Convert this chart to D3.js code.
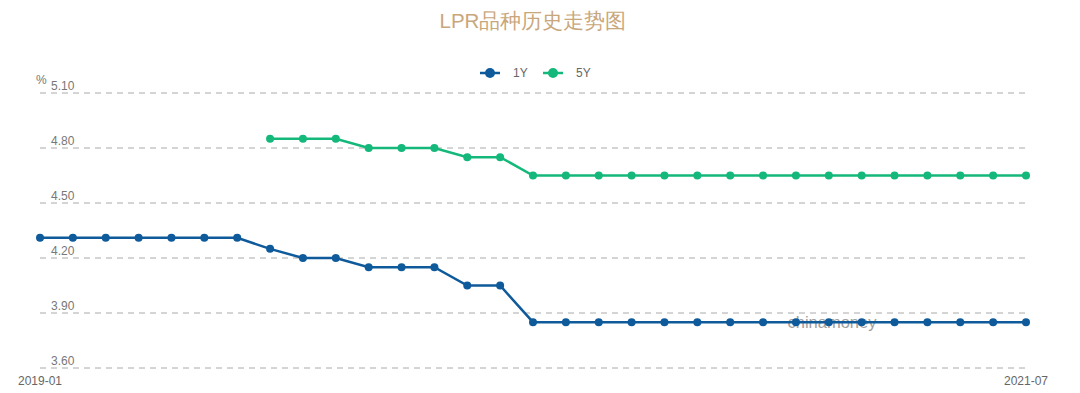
<!DOCTYPE html>
<html><head><meta charset="utf-8">
<script src="https://cdn.jsdelivr.net/npm/d3@7"></script>
<style>body{margin:0;background:#fff;}svg{display:block;font-family:"Liberation Sans",Arial,sans-serif;}</style>
</head><body><svg id="c" width="1080" height="393"></svg>
<script>
const months = ["2019-01","2019-02","2019-03","2019-04","2019-05","2019-06","2019-07","2019-08","2019-09","2019-10","2019-11","2019-12",
"2020-01","2020-02","2020-03","2020-04","2020-05","2020-06","2020-07","2020-08","2020-09","2020-10","2020-11","2020-12",
"2021-01","2021-02","2021-03","2021-04","2021-05","2021-06","2021-07"];
const y1 = [4.31,4.31,4.31,4.31,4.31,4.31,4.31,4.25,4.20,4.20,4.15,4.15,4.15,4.05,4.05,3.85,3.85,3.85,3.85,3.85,3.85,3.85,3.85,3.85,3.85,3.85,3.85,3.85,3.85,3.85,3.85];
const y5 = [null,null,null,null,null,null,null,4.85,4.85,4.85,4.80,4.80,4.80,4.75,4.75,4.65,4.65,4.65,4.65,4.65,4.65,4.65,4.65,4.65,4.65,4.65,4.65,4.65,4.65,4.65,4.65];
const yTicks = [3.60,3.90,4.20,4.50,4.80,5.10];
const xLabels = ["2019-01","2021-07"];
const seriesNames = ["1Y","5Y"];
const colors = ["#0e5a9a","#14b87a"];

const svg = d3.select("#c");
const x = d3.scalePoint().domain(months).range([40,1026]);
const y = d3.scaleLinear().domain([3.60,5.10]).range([368,93]);

svg.append("text").attr("x",533).attr("y",28).attr("text-anchor","middle")
  .attr("fill","#c9a77c").attr("font-size",20.5).text("LPR品种历史走势图");

// grid
const g = svg.append("g");
g.selectAll("line.grid").data(yTicks).join("line")
  .attr("x1",40).attr("x2",1026).attr("y1",d=>y(d)).attr("y2",d=>y(d))
  .attr("stroke","#aaa").attr("stroke-width",1).attr("stroke-dasharray","6,5");
g.selectAll("text.yl").data(yTicks).join("text")
  .attr("x",51).attr("y",d=>y(d)-3).attr("fill","#777").attr("font-size",12)
  .text(d=>d.toFixed(2));
svg.append("text").attr("x",36).attr("y",84).attr("fill","#777").attr("font-size",12).text("%");

// x labels
svg.selectAll("text.xl").data(xLabels).join("text")
  .attr("x",d=>x(d)).attr("y",385).attr("text-anchor","middle").attr("fill","#666").attr("font-size",12).text(d=>d);

// watermark
svg.append("text").attr("x",832).attr("y",328).attr("text-anchor","middle").attr("fill","#a0a0a0")
  .attr("font-size",16.5).text("chinamoney");

const series = [y1,y5];
series.forEach((vals,i)=>{
  const pts = months.map((m,j)=>({m,v:vals[j]})).filter(d=>d.v!=null);
  const line = d3.line().x(d=>x(d.m)).y(d=>y(d.v));
  svg.append("path").datum(pts).attr("d",line).attr("fill","none").attr("stroke",colors[i]).attr("stroke-width",2.5);
  svg.append("g").selectAll("circle").data(pts).join("circle")
    .attr("cx",d=>x(d.m)).attr("cy",d=>y(d.v)).attr("r",4).attr("fill",colors[i]);
});

// legend
const lg = svg.append("g");
seriesNames.forEach((n,i)=>{
  const lx = 480 + i*63;
  lg.append("line").attr("x1",lx).attr("x2",lx+20).attr("y1",73).attr("y2",73).attr("stroke",colors[i]).attr("stroke-width",2.5);
  lg.append("circle").attr("cx",lx+10).attr("cy",73).attr("r",5).attr("fill",colors[i]);
  lg.append("text").attr("x",lx+33).attr("y",77).attr("fill","#666").attr("font-size",12).text(n);
});
</script></body></html>
